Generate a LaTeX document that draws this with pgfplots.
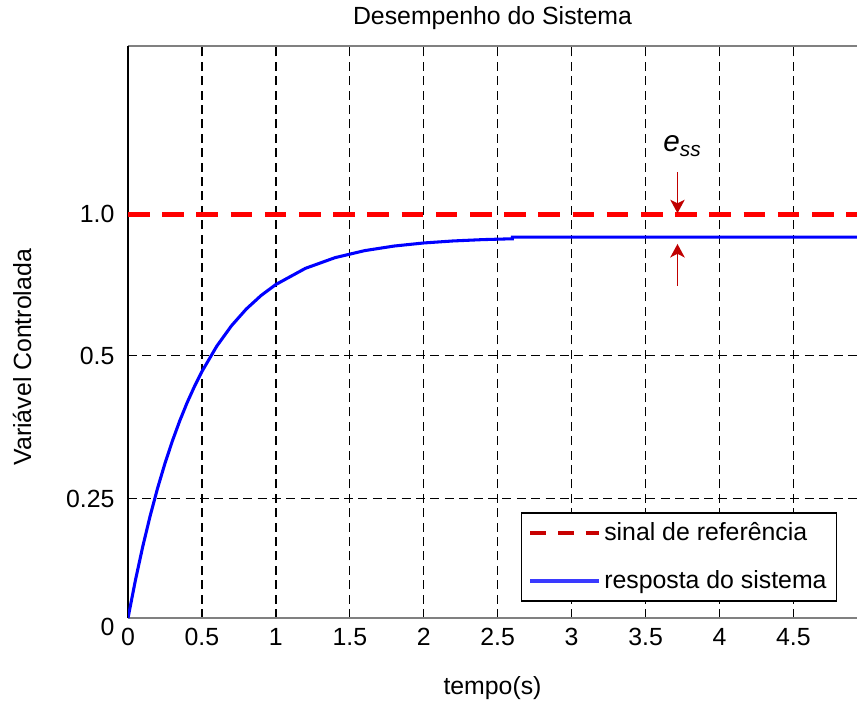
\documentclass[border=0pt]{standalone}
\usepackage{fontspec}
\setmainfont{Liberation Sans}
\usepackage{pgfplots}
\pgfplotsset{compat=1.18}
\usetikzlibrary{arrows.meta}
\definecolor{seta}{RGB}{192,0,0}
\definecolor{legazul}{RGB}{58,58,255}
\definecolor{legverm}{RGB}{200,0,0}
\newcommand\fs{\fontsize{13.8}{16.5}\selectfont}

\begin{document}
\begin{tikzpicture}
\begin{axis}[
  scale only axis,
  width=405pt, height=317.8pt,
  xmin=0, xmax=4.93, ymin=0, ymax=1.416,
  axis x line*=box, axis y line*=left,
  x axis line style={draw=gray, line width=1.1pt},
  y axis line style={draw=black, line width=1.1pt},
  /pgf/number format/assume math mode=true,
  tick label style={font=\fs},
  label style={font=\fs},
  xtick={0,0.5,1,1.5,2,2.5,3,3.5,4,4.5},
  xticklabels={0,0.5,1,1.5,2,2.5,3,3.5,4,4.5},
  ytick={0,0.295,0.649},
  yticklabels={\raisebox{-5pt}[9pt][0pt]{0},0.25,0.5},
  extra y ticks={1},
  extra y tick labels={1.0},
  extra y tick style={grid=none},
  major tick length=0pt,
  xticklabel style={yshift=-2pt},
  yticklabel style={xshift=-4pt},
  grid=major,
  grid style={black, line width=0.7pt, dash pattern=on 5pt off 3pt},
  xlabel={tempo(s)},
  xlabel style={at={(axis description cs:0.5,-0.122)}, anchor=center},
  ylabel={Variável Controlada},
  ylabel style={at={(axis description cs:-0.1454,0.456)}, anchor=center},
  legend style={at={(axis description cs:0.539,0.185)}, anchor=north west,
    draw=black, line width=0.8pt, row sep=11pt, inner sep=3.5pt,
    font=\fs, cells={anchor=west}},
  legend image code/.code={\draw[#1] (0pt,0pt) -- (31pt,0pt);
    \path (0pt,0pt) -- (38pt,0pt);},
]
% sinal de referencia
\addplot[red, line width=2.8pt, dash pattern=on 12pt off 7pt, forget plot]
  coordinates {(0,1) (4.93,1)};
% resposta do sistema
\addplot[blue, line width=1.7pt, forget plot] coordinates {
  (0,0) (0.05,0.0933) (0.1,0.1774) (0.15,0.2531) (0.2,0.3214) (0.25,0.3829)
  (0.3,0.4382) (0.35,0.4882) (0.4,0.5332) (0.45,0.5737) (0.5,0.6102)
  (0.6,0.6728) (0.7,0.7236) (0.8,0.7649) (0.9,0.7984) (1.0,0.8256)
  (1.2,0.8656) (1.4,0.8920) (1.6,0.9094) (1.8,0.9208) (2.0,0.9284)
  (2.2,0.9334) (2.4,0.9367) (2.6,0.9388) (2.6,0.943) (4.93,0.943)
};
\addlegendimage{legverm, line width=2.4pt, dash pattern=on 8.8pt off 6.7pt}
\addlegendentry{sinal de referência}
\addlegendimage{legazul, line width=2.4pt}
\addlegendentry{resposta do sistema}

\draw[seta, line width=0.9pt, -{Stealth[length=7.5pt, width=8pt, inset=2pt]}]
  (axis cs:3.716,1.104) -- (axis cs:3.716,1.002);
\draw[seta, line width=0.9pt, -{Stealth[length=7.5pt, width=8pt, inset=2pt]}]
  (axis cs:3.716,0.822) -- (axis cs:3.716,0.926);
\node at (axis cs:3.75,1.168) {\fontsize{16.5}{19}\selectfont\textit{e}\textsubscript{\textit{ss}}};

\coordinate (titulo) at (rel axis cs:0.5,1.049);
\coordinate (bbsw) at (rel axis cs:-0.1756,-0.1434);
\coordinate (bbne) at (rel axis cs:1,1.0804);
\end{axis}
\node[font=\fs] at (titulo) {Desempenho do Sistema};
\pgfresetboundingbox
\path[use as bounding box] (bbsw) rectangle (bbne);
\end{tikzpicture}
\end{document}
